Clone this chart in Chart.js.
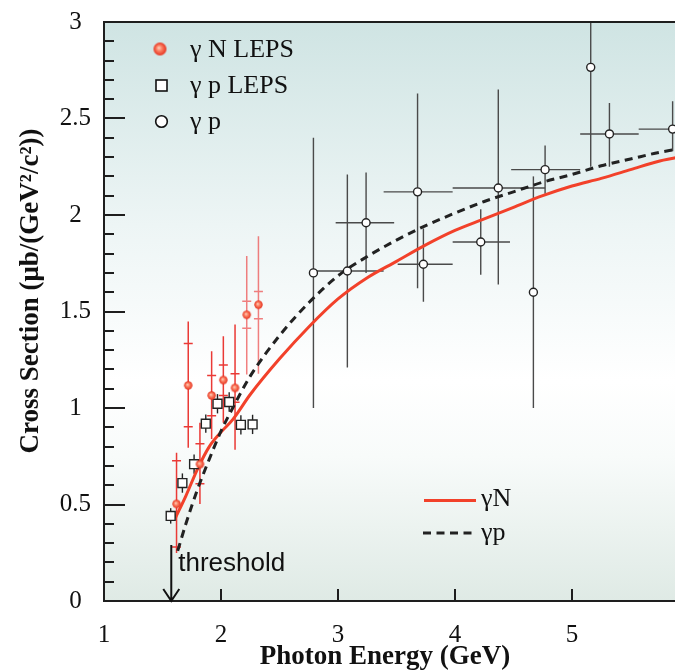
<!DOCTYPE html>
<html><head><meta charset="utf-8">
<script src="https://cdn.jsdelivr.net/npm/chart.js@4"></script>
<style>html,body{margin:0;padding:0;overflow:hidden;background:#fff}canvas{display:block}</style>
</head><body>
<canvas id="c" width="700" height="671"></canvas>
<script>
// ---- γN LEPS (red circles)
const nX = [1.62, 1.72, 1.82, 1.92, 2.02, 2.12, 2.22, 2.32];
const nY = [0.503, 1.117, 0.709, 1.065, 1.145, 1.104, 1.483, 1.535];
const nStatHi = [0.727, 1.334, 0.815, 1.168, 1.223, 1.178, 1.553, 1.604];
const nStatLo = [0.280, 0.903, 0.607, 0.960, 1.065, 1.030, 1.413, 1.463];
const nTotHi = [0.768, 1.448, 0.924, 1.294, 1.372, 1.432, 1.787, 1.890];
const nTotLo = [0.249, 0.794, 0.503, 0.840, 0.924, 0.784, 1.173, 1.178];
// ---- γp LEPS (open squares)
const sX = [1.57, 1.67, 1.77, 1.87, 1.97, 2.07, 2.17, 2.27];
const sY = [0.441, 0.611, 0.709, 0.919, 1.022, 1.031, 0.913, 0.915];
const sErr = [0.04, 0.05, 0.05, 0.047, 0.05, 0.05, 0.05, 0.05];
// ---- γp (open circles)
const cX = [2.79, 3.08, 3.24, 3.68, 3.73, 4.22, 4.37, 4.67, 4.77, 5.16, 5.32, 5.86];
const cY = [1.70, 1.71, 1.96, 2.12, 1.745, 1.86, 2.14, 1.60, 2.235, 2.765, 2.42, 2.445];
const cYHi = [2.40, 2.21, 2.22, 2.63, 1.93, 2.03, 2.65, 2.20, 2.36, 3.20, 2.58, 2.59];
const cYLo = [1.00, 1.21, 1.70, 1.62, 1.55, 1.69, 1.64, 1.00, 2.11, 2.25, 2.25, 2.33];
const cXLo = [null, 2.79, 2.98, 3.39, 3.51, 3.98, 3.98, null, 4.48, null, 5.07, 5.57];
const cXHi = [null, 3.39, 3.48, 3.98, 3.98, 4.47, 4.77, null, 5.07, null, 5.57, 6.15];
// ---- model curves
const curveNX = [1.61, 1.7, 1.8, 1.9, 2.0, 2.1, 2.25, 2.5, 2.75, 3.0, 3.25, 3.5, 3.75, 4.0, 4.25, 4.5, 4.75, 5.0, 5.25, 5.5, 5.75, 6.0];
const curveNY = [0.43, 0.545, 0.685, 0.80, 0.875, 0.94, 1.07, 1.255, 1.42, 1.565, 1.675, 1.76, 1.845, 1.92, 1.98, 2.04, 2.10, 2.15, 2.19, 2.235, 2.28, 2.31];
const curvePX = [1.63, 1.7, 1.8, 1.9, 2.0, 2.1, 2.25, 2.5, 2.75, 3.0, 3.25, 3.5, 3.75, 4.0, 4.25, 4.5, 4.75, 5.0, 5.25, 5.5, 5.75, 6.0];
const curvePY = [0.26, 0.40, 0.58, 0.735, 0.88, 1.0, 1.165, 1.375, 1.545, 1.685, 1.785, 1.87, 1.945, 2.01, 2.07, 2.12, 2.17, 2.21, 2.255, 2.29, 2.325, 2.35];
// ---- axes
const xTicks = [1, 2, 3, 4, 5];
const yTicks = [0, 0.5, 1, 1.5, 2, 2.5, 3];
const yMinorStep = 0.1;
const thresholdX = 1.575;

const SERIF = '"Liberation Serif", "DejaVu Serif", serif';
const SANS = '"Liberation Sans", Arial, sans-serif';

function ball(r) {
  const s = Math.ceil(2 * r + 2);
  const c = document.createElement('canvas');
  c.width = c.height = s;
  const g = c.getContext('2d');
  const m = s / 2;
  const gr = g.createRadialGradient(m - r * 0.2, m - r * 0.2, 0, m, m, r);
  gr.addColorStop(0, '#ffd6c2');
  gr.addColorStop(0.45, '#fb7d60');
  gr.addColorStop(1, '#e5321f');
  g.fillStyle = gr;
  g.beginPath(); g.arc(m, m, r, 0, Math.PI * 2); g.fill();
  return c;
}
const ballData = ball(4.2);
const ballLegend = ball(6.5);

const zip = (xs, ys) => xs.map((x, i) => ({ x, y: ys[i] }));

const deco = {
  id: 'deco',
  beforeDraw(chart) {
    const { ctx, chartArea: a } = chart;
    const g = ctx.createLinearGradient(0, a.top, 0, a.bottom);
    g.addColorStop(0, '#cfe4e3');
    g.addColorStop(0.35, '#edf5f5');
    g.addColorStop(0.62, '#ffffff');
    g.addColorStop(0.75, '#f8fbfa');
    g.addColorStop(1, '#dfeae5');
    ctx.save();
    ctx.fillStyle = g;
    ctx.fillRect(a.left, a.top, chart.width - a.left, a.bottom - a.top);
    ctx.restore();
  },
  beforeDatasetsDraw(chart) {
    const { ctx, chartArea: a } = chart;
    const xs = chart.scales.x, ys = chart.scales.y;
    const X = v => xs.getPixelForValue(v), Y = v => ys.getPixelForValue(v);
    ctx.save();
    ctx.beginPath(); ctx.rect(a.left, a.top, chart.width - a.left, a.bottom - a.top); ctx.clip();
    ctx.strokeStyle = '#4a4a4a'; ctx.lineWidth = 1.4;
    cX.forEach((x, i) => {
      ctx.beginPath();
      ctx.moveTo(X(x), Y(cYHi[i])); ctx.lineTo(X(x), Y(cYLo[i]));
      if (cXLo[i] !== null) { ctx.moveTo(X(cXLo[i]), Y(cY[i])); ctx.lineTo(X(cXHi[i]), Y(cY[i])); }
      ctx.stroke();
    });
    ctx.strokeStyle = '#222'; ctx.lineWidth = 1.4;
    sX.forEach((x, i) => {
      ctx.beginPath(); ctx.moveTo(X(x), Y(sY[i] + sErr[i])); ctx.lineTo(X(x), Y(sY[i] - sErr[i])); ctx.stroke();
    });
    nX.forEach((x, i) => {
      ctx.strokeStyle = i >= 6 ? 'rgba(235,60,60,0.65)' : '#ea3a36';
      ctx.lineWidth = 1.5;
      const px = X(x);
      ctx.beginPath();
      ctx.moveTo(px, Y(nTotHi[i])); ctx.lineTo(px, Y(nTotLo[i]));
      [nStatHi[i], nStatLo[i]].forEach(v => { ctx.moveTo(px - 4.5, Y(v)); ctx.lineTo(px + 4.5, Y(v)); });
      ctx.stroke();
    });
    ctx.restore();
  },
  afterDraw(chart) {
    const { ctx, chartArea: a } = chart;
    const xs = chart.scales.x, ys = chart.scales.y;
    const X = v => xs.getPixelForValue(v), Y = v => ys.getPixelForValue(v);
    ctx.save();
    ctx.strokeStyle = '#1e1e1e'; ctx.lineWidth = 2;
    ctx.beginPath();
    ctx.moveTo(chart.width, a.top); ctx.lineTo(a.left, a.top); ctx.lineTo(a.left, a.bottom); ctx.lineTo(chart.width, a.bottom);
    ctx.stroke();
    ctx.beginPath();
    for (let k = 0; k <= 30; k++) {
      const v = k * yMinorStep;
      const major = k % 5 === 0;
      const py = Math.round(Y(v));
      ctx.moveTo(a.left, py); ctx.lineTo(a.left + (major ? 21 : 10), py);
    }
    xTicks.forEach(v => { const px = X(v); ctx.moveTo(px, a.bottom); ctx.lineTo(px, a.bottom - 12); });
    ctx.stroke();

    const tx = X(thresholdX);
    ctx.strokeStyle = '#111'; ctx.lineWidth = 2;
    ctx.beginPath();
    ctx.moveTo(tx, a.bottom - 56); ctx.lineTo(tx, a.bottom);
    ctx.moveTo(tx - 8, a.bottom - 12); ctx.lineTo(tx, a.bottom); ctx.lineTo(tx + 8, a.bottom - 12);
    ctx.stroke();
    ctx.fillStyle = '#111';
    ctx.font = '26px ' + SANS;
    ctx.textBaseline = 'middle'; ctx.textAlign = 'left';
    ctx.fillText('threshold', tx + 7, a.bottom - 37);

    ctx.font = '26px ' + SERIF;
    ctx.fillStyle = '#111';
    ctx.drawImage(ballLegend, 160 - ballLegend.width / 2, 49 - ballLegend.height / 2);
    ctx.fillText('γ N LEPS', 190, 50);
    ctx.strokeStyle = '#111'; ctx.lineWidth = 1.6;
    ctx.fillStyle = '#fff';
    ctx.fillRect(156, 80, 11, 11); ctx.strokeRect(156, 80, 11, 11);
    ctx.beginPath(); ctx.arc(161.5, 121.5, 5.8, 0, Math.PI * 2); ctx.fill(); ctx.stroke();
    ctx.fillStyle = '#111';
    ctx.fillText('γ p LEPS', 190, 86);
    ctx.fillText('γ p', 190, 122);

    ctx.lineWidth = 3;
    ctx.strokeStyle = '#f2412a';
    ctx.beginPath(); ctx.moveTo(424, 500.5); ctx.lineTo(476, 500.5); ctx.stroke();
    ctx.strokeStyle = '#222'; ctx.setLineDash([8, 5.5]);
    ctx.beginPath(); ctx.moveTo(423, 533); ctx.lineTo(474, 533); ctx.stroke();
    ctx.setLineDash([]);
    ctx.fillText('γN', 481, 499);
    ctx.fillText('γp', 481, 533);

    ctx.font = 'bold 27px ' + SERIF;
    ctx.textAlign = 'center';
    ctx.fillText('Photon Energy (GeV)', 385, 657);
    ctx.translate(31, 291); ctx.rotate(-Math.PI / 2);
    ctx.fillText('Cross Section (μb/(GeV²/c²))', 0, 0);
    ctx.restore();
  }
};

new Chart(document.getElementById('c'), {
  type: 'scatter',
  data: {
    datasets: [
      { type: 'line', label: 'γN', data: zip(curveNX, curveNY), borderColor: '#f2412a', borderWidth: 3, pointRadius: 0, cubicInterpolationMode: 'monotone', fill: false, order: 5 },
      { type: 'line', label: 'γp', data: zip(curvePX, curvePY), borderColor: '#222', borderWidth: 3, borderDash: [8, 5.5], pointRadius: 0, cubicInterpolationMode: 'monotone', fill: false, order: 4 },
      { label: 'γ p', data: zip(cX, cY), pointRadius: 4, pointBackgroundColor: '#fff', pointBorderColor: '#222', pointBorderWidth: 1.4, order: 3 },
      { label: 'γ p LEPS', data: zip(sX, sY), pointStyle: 'rect', pointRadius: 6.3, pointBackgroundColor: '#fff', pointBorderColor: '#222', pointBorderWidth: 1.4, order: 2 },
      { label: 'γ N LEPS', data: zip(nX, nY), pointStyle: ballData, pointRadius: 4, order: 1 }
    ]
  },
  options: {
    responsive: false,
    animation: false,
    layout: { padding: { top: 22, right: 11, left: 0, bottom: 0 } },
    plugins: { legend: { display: false }, tooltip: { enabled: false } },
    scales: {
      x: {
        type: 'linear', min: 1, max: 6,
        afterBuildTicks: s => { s.ticks = xTicks.map(v => ({ value: v })); },
        afterFit: s => { s.height = 70; },
        grid: { display: false }, border: { display: false },
        ticks: { color: '#111', padding: 11, font: { family: SERIF, size: 25 }, maxRotation: 0, callback: v => String(v) }
      },
      y: {
        type: 'linear', min: 0, max: 3,
        afterBuildTicks: s => { s.ticks = yTicks.map(v => ({ value: v })); },
        afterFit: s => { s.width = 104; },
        grid: { display: false }, border: { display: false },
        ticks: { color: '#111', padding: 5, crossAlign: 'center', font: { family: SERIF, size: 25 }, callback: v => String(v) }
      }
    }
  },
  plugins: [deco]
});
</script>
</body></html>
